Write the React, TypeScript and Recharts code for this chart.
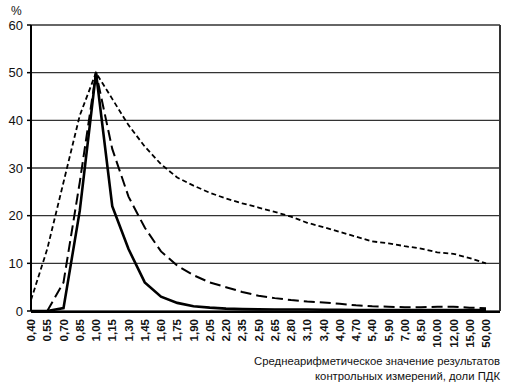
import { LineChart, Line, XAxis, YAxis, CartesianGrid } from 'recharts';

const categories = [
  '0,40', '0,55', '0,70', '0,85', '1,00', '1,15', '1,30', '1,45', '1,60', '1,75',
  '1,90', '2,05', '2,20', '2,35', '2,50', '2,65', '2,80', '3,10', '3,40', '4,00',
  '4,70', '5,40', '5,90', '7,00', '8,50', '10,00', '12,00', '15,00', '50,00',
];

// solid curve
const narrow = [
  0, 0, 0.6, 21, 50, 22, 13, 6, 3, 1.7, 1, 0.7, 0.5, 0.4, 0.35, 0.3, 0.3, 0.3, 0.25,
  0.25, 0.2, 0.2, 0.2, 0.2, 0.2, 0.2, 0.2, 0.2, 0.2,
];

// long dashes
const medium = [
  0, 0, 6, 27, 50, 34, 24, 17.5, 12.5, 9.5, 7.5, 6, 5, 4, 3.2, 2.7, 2.3, 2, 1.8,
  1.5, 1.2, 1.0, 0.9, 0.8, 0.8, 0.9, 0.9, 0.7, 0.6,
];

// short dashes
const wide = [
  2.3, 13, 27, 41, 50, 44.5, 39, 34.5, 30.8, 28, 26.3, 24.8, 23.6, 22.6, 21.7, 20.8,
  19.8, 18.5, 17.6, 16.6, 15.6, 14.6, 14.2, 13.6, 13.1, 12.3, 12, 11.1, 10,
];

const yTicks = [0, 10, 20, 30, 40, 50, 60];

// the scanned axis has its own tick marks, not aligned with the labels
const minorTicks = [
  0, 1, 2, 3, 4, 5, 6, 7, 8, 9, 10, 11, 12, 13, 14, 15, 16, 17, 18, 19, 20, 21, 22,
  23, 24, 25, 26, 27, 28, 29, 30, 31, 32, 33, 34,
];

const data = categories.map((x, i) => ({
  x,
  narrow: narrow[i],
  medium: medium[i],
  wide: wide[i],
}));

const XTick = ({ x, y, payload }: any) => (
  <text
    transform={`translate(${x},${y + 8}) rotate(-90)`}
    textAnchor="end"
    dy="0.35em"
    fontSize={11.5}
    fontWeight="bold"
    fill="#111"
  >
    {payload.value}
  </text>
);

export default function App() {
  return (
    <div
      style={{
        position: 'absolute',
        left: 0,
        top: 0,
        width: 509,
        height: 384,
        background: '#fff',
        fontFamily: '"Liberation Sans", Arial, sans-serif',
      }}
    >
      <LineChart
        width={509}
        height={384}
        data={data}
        margin={{ top: 25, right: 8, bottom: 71, left: 0 }}
      >
        <CartesianGrid vertical={false} stroke="#333" strokeWidth={1.3} />
        <XAxis
          xAxisId="minor"
          type="number"
          domain={[0, 34]}
          ticks={minorTicks}
          interval={0}
          tick={false}
          tickSize={7}
          height={1}
          padding={{ left: 0, right: 11 }}
          axisLine={{ stroke: '#000', strokeWidth: 2 }}
          tickLine={{ stroke: '#000', strokeWidth: 1.5 }}
        />
        <XAxis
          dataKey="x"
          interval={0}
          height={1}
          tickSize={0}
          tickMargin={0}
          axisLine={false}
          tickLine={false}
          padding={{ left: 0, right: 14 }}
          tick={<XTick />}
        />
        <YAxis
          width={31}
          domain={[0, 60]}
          ticks={yTicks}
          interval={0}
          tickSize={4}
          tickMargin={4}
          axisLine={{ stroke: '#000', strokeWidth: 2 }}
          tickLine={{ stroke: '#000', strokeWidth: 1.5 }}
          tick={{ fontSize: 13, fill: '#111' }}
        />
        <YAxis
          yAxisId="r"
          orientation="right"
          width={1}
          domain={[0, 60]}
          tick={false}
          tickLine={false}
          axisLine={{ stroke: '#333', strokeWidth: 2 }}
        />
        <Line
          dataKey="wide"
          type="linear"
          stroke="#000"
          strokeWidth={1.8}
          strokeDasharray="5 3"
          dot={false}
          isAnimationActive={false}
        />
        <Line
          dataKey="medium"
          type="linear"
          stroke="#000"
          strokeWidth={2}
          strokeDasharray="11 5"
          dot={false}
          isAnimationActive={false}
        />
        <Line
          dataKey="narrow"
          type="linear"
          stroke="#000"
          strokeWidth={2.6}
          dot={false}
          isAnimationActive={false}
        />
      </LineChart>
      <div style={{ position: 'absolute', left: 11, top: 4, fontSize: 12, color: '#111' }}>%</div>
      <div
        style={{
          position: 'absolute',
          right: 9,
          top: 354,
          fontSize: 11.3,
          lineHeight: '15px',
          textAlign: 'right',
          color: '#111',
          whiteSpace: 'nowrap',
        }}
      >
        Среднеарифметическое значение результатов
        <br />
        контрольных измерений, доли ПДК
      </div>
    </div>
  );
}
